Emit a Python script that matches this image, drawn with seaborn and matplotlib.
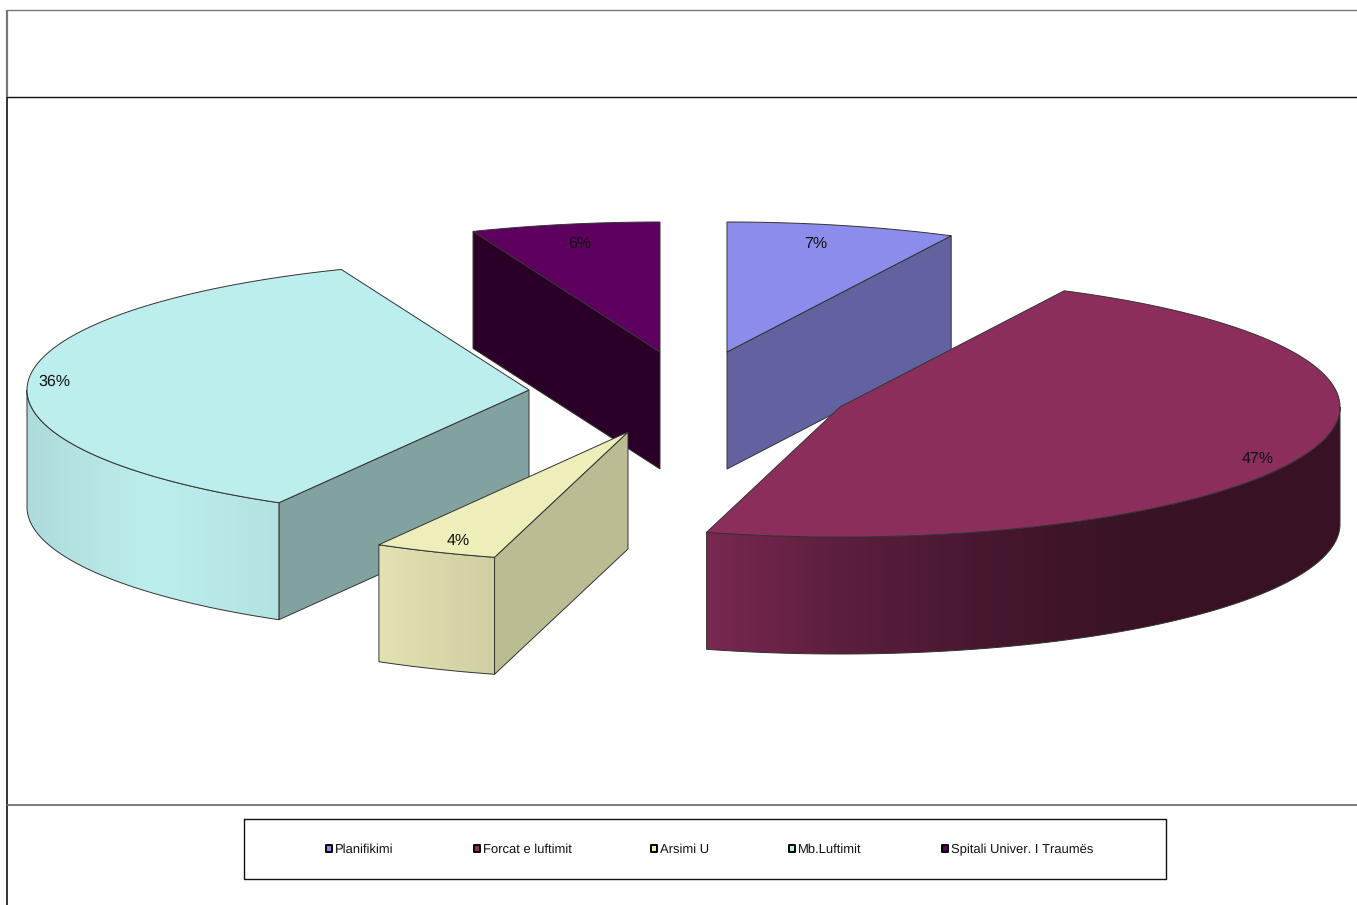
import numpy as np
import pandas as pd
import matplotlib
matplotlib.use('Agg')
import matplotlib.pyplot as plt
from matplotlib.patches import Polygon
import seaborn as sns

# data
categories = ['Planifikimi', 'Forcat e luftimit', 'Arsimi U', 'Mb.Luftimit', 'Spitali Univer. I Traumës']
shares = [7.4, 46.9, 4.0, 35.6, 6.1]

# colours of each slice
top_colors = ['#8c8cec', '#8c2e5c', '#eeeebb', '#bdeeee', '#5e005e']
wall_colors = ['#6262a0', '#3a1424', '#bbbb94', '#82a2a0', '#2a0028']

# layout, in pixels of the 1357x905 image
apex_x = [727, 840, 628, 529, 660]
apex_y = [352, 407, 432, 390, 352]
radius_x = [500, 500, 500, 502, 500]
label_x = [816, 1258, 458, 54, 580]
label_y = [244, 459, 541, 382, 244]
legend_marker_x = [329, 477, 654, 792, 945]
legend_text_x = [335, 483, 660, 798, 951]
ry = 130
depth = 117
draw_order = [4, 0, 3, 2, 1]

sns.set_theme(style='white')
plt.rcParams['font.family'] = ['Liberation Sans', 'DejaVu Sans']
plt.rcParams['text.hinting'] = 'no_hinting'
plt.rcParams['text.hinting_factor'] = 1

fig, ax = plt.subplots(figsize=(13.57, 9.05), dpi=100)
fig.subplots_adjust(0, 0, 1, 1)

edge = '#333333'


def shade(s):
    # brightness of the round wall, s is the sine of the angle it faces
    return np.interp(s, [-1, -0.75, -0.5, -0.27, 0, 0.3, 0.6, 1],
                     [0.92, 1.0, 0.95, 0.87, 0.66, 0.5, 0.4, 0.4])


# slice angles go clockwise from the top
ends = np.cumsum(shares) * 2 * np.pi / 100
starts = ends - np.array(shares) * 2 * np.pi / 100

for k, i in enumerate(draw_order):
    z = 2 + k * 0.1
    cx, cy, rx = apex_x[i], apex_y[i], radius_x[i]
    a0, a1 = starts[i], ends[i]
    base = np.array(matplotlib.colors.to_rgb(top_colors[i]))
    th = np.linspace(a0, a1, 300)
    x = cx + rx * np.sin(th)
    y = cy - ry * np.cos(th)

    # flat walls
    for ang, show in [(a0, np.pi < a0 < 2 * np.pi), (a1, 0 < a1 < np.pi)]:
        if show:
            px, py = cx + rx * np.sin(ang), cy - ry * np.cos(ang)
            ax.fill([cx, px, px, cx], [cy, py, py + depth, cy + depth],
                    facecolor=wall_colors[i], edgecolor=edge, lw=0.7, zorder=z)

    # round wall, only the front half shows
    lo, hi = max(a0, np.pi / 2), min(a1, 3 * np.pi / 2)
    if lo < hi:
        ta = np.linspace(lo, hi, 200)
        xa = cx + rx * np.sin(ta)
        ya = cy - ry * np.cos(ta)
        outline = np.c_[np.r_[xa, xa[::-1]], np.r_[ya, ya[::-1] + depth]]
        clip = Polygon(outline, closed=True, facecolor='none', edgecolor=edge, lw=0.7, zorder=z + 0.01)
        ax.add_patch(clip)
        px_col = np.linspace(xa.min(), xa.max(), 400)
        grad = np.clip(base[None, :] * shade((px_col - cx) / rx)[:, None], 0, 1)[None, :, :]
        im = ax.imshow(grad, extent=(xa.min(), xa.max(), ya.max() + depth, ya.min()),
                       aspect='auto', interpolation='bilinear', zorder=z)
        im.set_clip_path(clip)

    # top face
    ax.fill(np.r_[cx, x], np.r_[cy, y], facecolor=top_colors[i], edgecolor=edge, lw=0.7, zorder=z + 0.02)
    ax.text(label_x[i], label_y[i], f'{shares[i]:.0f}%', ha='center', va='center',
            fontsize=11.5, color='#111111', zorder=5)

# frame lines of the sheet
ax.plot([7, 7], [10, 97], color='#777777', lw=1.6, zorder=1, solid_capstyle='butt')
ax.plot([7, 7], [97, 905], color='#333333', lw=1.4, zorder=1, solid_capstyle='butt')
ax.plot([7, 1357], [10, 10], color='#777777', lw=1.0, zorder=1)
ax.plot([7, 1357], [97, 97], color='#111111', lw=1.0, zorder=1)
ax.plot([7, 1357], [804.5, 804.5], color='#666666', lw=1.2, zorder=1)

# legend
ax.plot([244, 1166, 1166, 244, 244], [818.5, 818.5, 878.5, 878.5, 818.5], color='#111111', lw=1.0, zorder=1)
legend_df = pd.DataFrame({'x': legend_marker_x, 'y': [848.5] * 5, 'name': categories})
sns.scatterplot(data=legend_df, x='x', y='y', hue='name', palette=top_colors, marker='s',
                s=20, edgecolor='black', linewidth=1.4, legend=False, ax=ax, zorder=3)
for tx, name in zip(legend_text_x, categories):
    ax.text(tx, 850, name, ha='left', va='center', fontsize=9.2, color='#111111')

ax.set_xlim(0, 1357)
ax.set_ylim(905, 0)
ax.axis('off')

fig.savefig('out.png', dpi=100, facecolor='white')
